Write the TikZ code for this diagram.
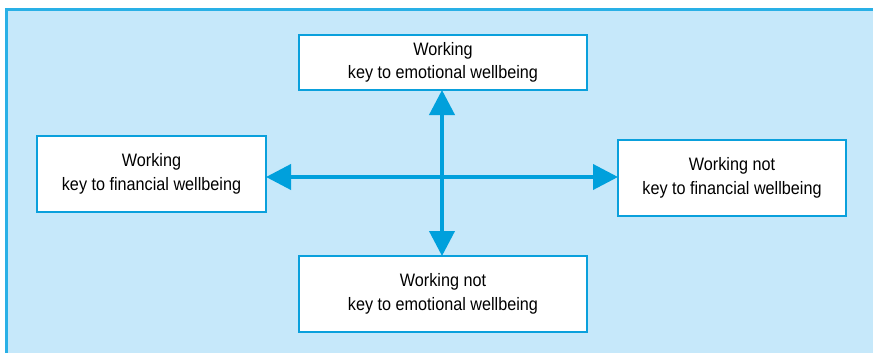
\documentclass[tikz,border=0pt]{standalone}
\usepackage{fontspec}
\setmainfont{Liberation Sans}[FakeStretch=0.9]
\usetikzlibrary{arrows.meta}
\definecolor{bgblue}{HTML}{C6E8FA}
\definecolor{framblue}{HTML}{29B0E6}
\definecolor{boxblue}{HTML}{0AA0DC}
\definecolor{arrblue}{HTML}{00A0DC}
\tikzset{
  card/.style={draw=boxblue, line width=2.8pt, fill=white, inner sep=0pt, outer sep=0pt,
    align=center, font=\fontsize{18}{23.5}\selectfont, text=black},
  link/.style={draw=arrblue, line width=4pt, {Triangle[length=25pt,width=25pt]}-{Triangle[length=25pt,width=25pt]}}
}
\begin{document}
\begin{tikzpicture}[x=1pt,y=-1pt]
\useasboundingbox (0,0) rectangle (873,353);
\clip (0,0) rectangle (873,353);
\fill[white] (0,0) rectangle (873,353);
\draw[framblue, fill=bgblue, line width=3pt] (6.5,9.5) rectangle (900,380);
\node[card, minimum width=288pt, minimum height=55pt] (top) at (443,62.5) {Working\\key to emotional wellbeing};
\node[card, minimum width=229pt, minimum height=76pt] (left) at (151.5,174) {Working\\key to financial wellbeing};
\node[card, minimum width=228pt, minimum height=76pt] (right) at (732,178) {Working not\\key to financial wellbeing};
\node[card, minimum width=288pt, minimum height=76pt] (bot) at (443,294) {Working not\\key to emotional wellbeing};
\coordinate (c) at (442,177);
\draw[link] (c |- top.south) -- (c |- bot.north);
\draw[link] (c -| left.east) -- (c -| right.west);
\end{tikzpicture}
\end{document}
